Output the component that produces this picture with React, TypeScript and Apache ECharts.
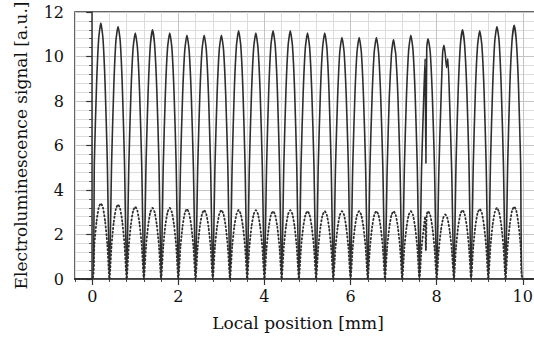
import React, { useEffect, useRef } from "react";
import * as echarts from "echarts";

const xTickValues = [0, 2, 4, 6, 8, 10];
const yTickValues = [0, 2, 4, 6, 8, 10, 12];

// Solid trace: electroluminescence signal [x (mm), y (a.u.)]
const solidSignal: [number, number][] = [
  [-0.4, 0], [0, 0],
  [0.05, 5.3], [0.1, 8.7], [0.15, 10.8], [0.2, 11.5], [0.25, 10.8], [0.3, 8.7], [0.35, 5.3], [0.4, 0],
  [0.45, 5.2], [0.5, 8.6], [0.55, 10.7], [0.6, 11.35], [0.65, 10.7], [0.7, 8.6], [0.75, 5.2], [0.8, 0],
  [0.85, 5.1], [0.9, 8.4], [0.95, 10.4], [1.0, 11.05], [1.05, 10.4], [1.1, 8.4], [1.15, 5.1], [1.2, 0],
  [1.25, 5.2], [1.3, 8.5], [1.35, 10.5], [1.4, 11.2], [1.45, 10.5], [1.5, 8.5], [1.55, 5.2], [1.6, 0],
  [1.65, 5.1], [1.7, 8.4], [1.75, 10.4], [1.8, 11.05], [1.85, 10.4], [1.9, 8.4], [1.95, 5.1], [2.0, 0],
  [2.05, 5.0], [2.1, 8.3], [2.15, 10.3], [2.2, 10.95], [2.25, 10.3], [2.3, 8.3], [2.35, 5.0], [2.4, 0],
  [2.45, 5.0], [2.5, 8.3], [2.55, 10.3], [2.6, 10.95], [2.65, 10.3], [2.7, 8.3], [2.75, 5.0], [2.8, 0],
  [2.85, 5.0], [2.9, 8.3], [2.95, 10.3], [3.0, 10.95], [3.05, 10.3], [3.1, 8.3], [3.15, 5.0], [3.2, 0],
  [3.25, 5.1], [3.3, 8.5], [3.35, 10.5], [3.4, 11.15], [3.45, 10.5], [3.5, 8.5], [3.55, 5.1], [3.6, 0],
  [3.65, 5.1], [3.7, 8.4], [3.75, 10.4], [3.8, 11.05], [3.85, 10.4], [3.9, 8.4], [3.95, 5.1], [4.0, 0],
  [4.05, 5.1], [4.1, 8.5], [4.15, 10.5], [4.2, 11.15], [4.25, 10.5], [4.3, 8.5], [4.35, 5.1], [4.4, 0],
  [4.45, 5.1], [4.5, 8.5], [4.55, 10.5], [4.6, 11.15], [4.65, 10.5], [4.7, 8.5], [4.75, 5.1], [4.8, 0],
  [4.85, 5.1], [4.9, 8.4], [4.95, 10.4], [5.0, 11.05], [5.05, 10.4], [5.1, 8.4], [5.15, 5.1], [5.2, 0],
  [5.25, 5.1], [5.3, 8.4], [5.35, 10.4], [5.4, 11.05], [5.45, 10.4], [5.5, 8.4], [5.55, 5.1], [5.6, 0],
  [5.65, 5.0], [5.7, 8.2], [5.75, 10.2], [5.8, 10.85], [5.85, 10.2], [5.9, 8.2], [5.95, 5.0], [6.0, 0],
  [6.05, 5.0], [6.1, 8.2], [6.15, 10.2], [6.2, 10.85], [6.25, 10.2], [6.3, 8.2], [6.35, 5.0], [6.4, 0],
  [6.45, 5.0], [6.5, 8.2], [6.55, 10.2], [6.6, 10.85], [6.65, 10.2], [6.7, 8.2], [6.75, 5.0], [6.8, 0],
  [6.85, 4.9], [6.9, 8.2], [6.95, 10.1], [6.98, 10.6], [7.0, 10.75], [7.02, 10.5], [7.05, 10.1], [7.1, 8.2], [7.15, 4.9], [7.2, 0],
  [7.25, 5.0], [7.3, 8.3], [7.35, 10.3], [7.4, 10.95], [7.45, 10.3], [7.5, 8.3], [7.55, 5.0], [7.6, 0],
  [7.65, 5.0], [7.7, 8.2], [7.73, 9.9], [7.75, 5.2], [7.77, 10.4], [7.8, 10.8], [7.85, 10.2], [7.9, 8.2], [7.95, 5.0], [8.0, 0],
  [8.05, 4.8], [8.1, 8.0], [8.14, 10.2], [8.17, 10.5], [8.2, 10.1], [8.23, 9.5], [8.26, 9.9], [8.3, 8.0], [8.35, 4.8], [8.4, 0],
  [8.45, 5.2], [8.5, 8.5], [8.55, 10.5], [8.6, 11.2], [8.65, 10.5], [8.7, 8.5], [8.75, 5.2], [8.8, 0],
  [8.85, 5.1], [8.9, 8.5], [8.95, 10.5], [9.0, 11.15], [9.05, 10.5], [9.1, 8.5], [9.15, 5.1], [9.2, 0],
  [9.25, 5.2], [9.3, 8.6], [9.35, 10.7], [9.4, 11.35], [9.45, 10.7], [9.5, 8.6], [9.55, 5.2], [9.6, 0],
  [9.65, 5.2], [9.7, 8.7], [9.75, 10.7], [9.8, 11.4], [9.85, 10.7], [9.9, 8.7], [9.95, 5.2], [10.0, 0],
  [10.4, 0],
];

// Dotted trace [x (mm), y (a.u.)]
const dottedSignal: [number, number][] = [
  [-0.4, 0], [0, 0],
  [0.05, 1.56], [0.1, 2.58], [0.15, 3.2], [0.2, 3.4], [0.25, 3.2], [0.3, 2.58], [0.35, 1.56], [0.4, 0],
  [0.45, 1.54], [0.5, 2.55], [0.55, 3.15], [0.6, 3.35], [0.65, 3.15], [0.7, 2.55], [0.75, 1.54], [0.8, 0],
  [0.85, 1.5], [0.9, 2.47], [0.95, 3.06], [1.0, 3.25], [1.05, 3.06], [1.1, 2.47], [1.15, 1.5], [1.2, 0],
  [1.25, 1.47], [1.3, 2.43], [1.35, 3.0], [1.4, 3.2], [1.45, 3.0], [1.5, 2.43], [1.55, 1.47], [1.6, 0],
  [1.65, 1.47], [1.7, 2.43], [1.75, 3.0], [1.8, 3.2], [1.85, 3.0], [1.9, 2.43], [1.95, 1.47], [2.0, 0],
  [2.05, 1.45], [2.1, 2.39], [2.15, 2.96], [2.2, 3.15], [2.25, 2.96], [2.3, 2.39], [2.35, 1.45], [2.4, 0],
  [2.45, 1.43], [2.5, 2.36], [2.55, 2.91], [2.6, 3.1], [2.65, 2.91], [2.7, 2.36], [2.75, 1.43], [2.8, 0],
  [2.85, 1.43], [2.9, 2.36], [2.95, 2.91], [3.0, 3.1], [3.05, 2.91], [3.1, 2.36], [3.15, 1.43], [3.2, 0],
  [3.25, 1.43], [3.3, 2.36], [3.35, 2.91], [3.4, 3.1], [3.45, 2.91], [3.5, 2.36], [3.55, 1.43], [3.6, 0],
  [3.65, 1.43], [3.7, 2.36], [3.75, 2.91], [3.8, 3.1], [3.85, 2.91], [3.9, 2.36], [3.95, 1.43], [4.0, 0],
  [4.05, 1.4], [4.1, 2.32], [4.15, 2.87], [4.2, 3.05], [4.25, 2.87], [4.3, 2.32], [4.35, 1.4], [4.4, 0],
  [4.45, 1.43], [4.5, 2.36], [4.55, 2.91], [4.6, 3.1], [4.65, 2.91], [4.7, 2.36], [4.75, 1.43], [4.8, 0],
  [4.85, 1.4], [4.9, 2.32], [4.95, 2.87], [5.0, 3.05], [5.05, 2.87], [5.1, 2.32], [5.15, 1.4], [5.2, 0],
  [5.25, 1.4], [5.3, 2.32], [5.35, 2.87], [5.4, 3.05], [5.45, 2.87], [5.5, 2.32], [5.55, 1.4], [5.6, 0],
  [5.65, 1.4], [5.7, 2.32], [5.75, 2.87], [5.8, 3.05], [5.85, 2.87], [5.9, 2.32], [5.95, 1.4], [6.0, 0],
  [6.05, 1.4], [6.1, 2.32], [6.15, 2.87], [6.2, 3.05], [6.25, 2.87], [6.3, 2.32], [6.35, 1.4], [6.4, 0],
  [6.45, 1.4], [6.5, 2.32], [6.55, 2.87], [6.6, 3.05], [6.65, 2.87], [6.7, 2.32], [6.75, 1.4], [6.8, 0],
  [6.85, 1.4], [6.9, 2.32], [6.95, 2.87], [7.0, 3.05], [7.05, 2.87], [7.1, 2.32], [7.15, 1.4], [7.2, 0],
  [7.25, 1.4], [7.3, 2.32], [7.35, 2.87], [7.4, 3.05], [7.45, 2.87], [7.5, 2.32], [7.55, 1.4], [7.6, 0],
  [7.65, 1.4], [7.7, 2.32], [7.73, 2.8], [7.75, 1.3], [7.77, 2.9], [7.8, 3.05], [7.85, 2.87], [7.9, 2.32], [7.95, 1.4], [8.0, 0],
  [8.05, 1.33], [8.1, 2.2], [8.15, 2.73], [8.2, 2.9], [8.25, 2.73], [8.3, 2.2], [8.35, 1.33], [8.4, 0],
  [8.45, 1.43], [8.5, 2.36], [8.55, 2.91], [8.6, 3.1], [8.65, 2.91], [8.7, 2.36], [8.75, 1.43], [8.8, 0],
  [8.85, 1.45], [8.9, 2.39], [8.95, 2.96], [9.0, 3.15], [9.05, 2.96], [9.1, 2.39], [9.15, 1.45], [9.2, 0],
  [9.25, 1.47], [9.3, 2.43], [9.35, 3.0], [9.4, 3.2], [9.45, 3.0], [9.5, 2.43], [9.55, 1.47], [9.6, 0],
  [9.65, 1.5], [9.7, 2.47], [9.75, 3.06], [9.8, 3.25], [9.85, 3.06], [9.9, 2.47], [9.95, 1.5], [10.0, 0],
  [10.4, 0],
];

const FONT = "DejaVu Serif";
const INK = "#2e2e2e";

export default function App() {
  const ref = useRef<HTMLDivElement>(null);

  useEffect(() => {
    if (!ref.current) return;
    const chart = echarts.init(ref.current, null, { renderer: "svg" });
    chart.setOption({
      animation: false,
      backgroundColor: "#ffffff",
      textStyle: { fontFamily: FONT },
      grid: {
        left: 75,
        right: -6,
        top: 12,
        bottom: 67,
        outerBoundsMode: "none",
        containLabel: false,
        show: true,
        borderColor: "#333",
        borderWidth: 1.5,
        backgroundColor: "transparent",
      },
      xAxis: [
        {
          type: "value",
          min: -0.4,
          max: 10.4,
          interval: 0.4,
          name: "Local position [mm]",
          nameLocation: "middle",
          nameGap: 35,
          nameTextStyle: {
            fontFamily: FONT,
            fontSize: 17,
            color: "#111",
            padding: [0, 19, 0, 0],
          },
          axisLine: { show: true, lineStyle: { color: "#333", width: 1.5 } },
          axisTick: { show: true, length: 3, lineStyle: { color: "#444" } },
          axisLabel: {
            customValues: xTickValues,
            fontFamily: FONT,
            fontSize: 16,
            color: "#111",
            margin: 9,
          },
          splitLine: {
            show: true,
            lineStyle: {
              color: ["#dcdcdc", "#c4c4c4", "#dcdcdc", "#dcdcdc", "#dcdcdc"],
              width: 1,
            },
          },
        },
        {
          type: "value",
          min: -0.4,
          max: 10.4,
          position: "bottom",
          axisLine: { show: false },
          axisTick: {
            show: true,
            customValues: xTickValues,
            length: 6,
            lineStyle: { color: "#333", width: 1.2 },
          },
          axisLabel: { show: false },
          splitLine: { show: false },
        },
      ],
      yAxis: {
        type: "value",
        min: 0,
        max: 12,
        interval: 2,
        name: "Electroluminescence signal [a.u.]",
        nameLocation: "middle",
        nameGap: 46,
        nameTextStyle: { fontFamily: FONT, fontSize: 17, color: "#111" },
        axisLine: { show: true, lineStyle: { color: "#333", width: 1.5 } },
        axisTick: { show: true, length: 6, lineStyle: { color: "#333", width: 1.2 } },
        minorTick: { show: true, splitNumber: 5, length: 3, lineStyle: { color: "#444" } },
        axisLabel: {
          customValues: yTickValues,
          fontFamily: FONT,
          fontSize: 16,
          color: "#111",
          margin: 11,
        },
        splitLine: { show: true, lineStyle: { color: "#c4c4c4", width: 1 } },
        minorSplitLine: { show: true, lineStyle: { color: "#dcdcdc", width: 1 } },
      },
      series: [
        {
          type: "line",
          data: dottedSignal,
          xAxisIndex: 0,
          showSymbol: false,
          smooth: 0.2,
          lineStyle: { color: INK, width: 1.8, type: [1.2, 2.6], cap: "round" },
          z: 3,
        },
        {
          type: "line",
          data: solidSignal,
          xAxisIndex: 0,
          showSymbol: false,
          smooth: 0.2,
          lineStyle: { color: INK, width: 1.6 },
          z: 4,
        },
      ],
    });
    return () => chart.dispose();
  }, []);

  return (
    <div
      ref={ref}
      style={{ position: "fixed", left: 0, top: 0, width: 534, height: 346 }}
    />
  );
}
